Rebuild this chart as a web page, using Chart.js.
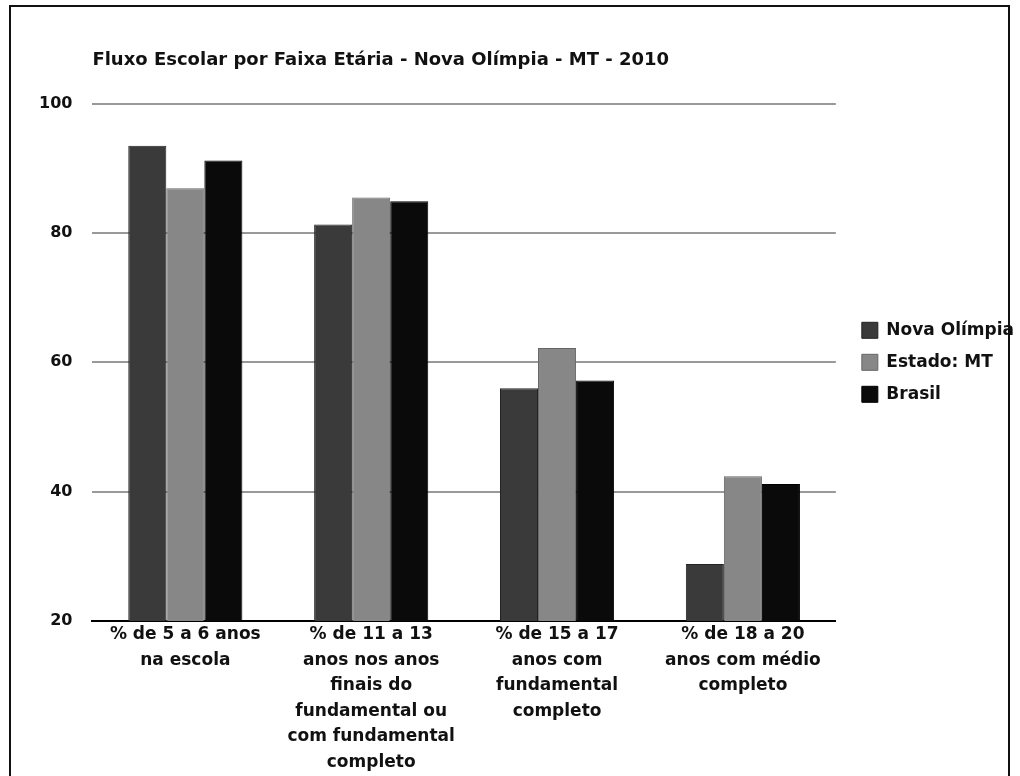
<!DOCTYPE html>
<html>
<head>
<meta charset="utf-8">
<script src="https://cdn.jsdelivr.net/npm/chart.js"></script>
<style>
  html, body { margin: 0; padding: 0; background: #fff; overflow: hidden; }
  #wrap { position: relative; width: 1020px; height: 776px; }
  #frame { position: absolute; left: 9px; top: 5px; width: 997px; height: 820px; border: 2px solid #111; pointer-events: none; }
</style>
</head>
<body>
<div id="wrap">
  <canvas id="fluxoChart" width="1020" height="776"></canvas>
  <div id="frame"></div>
</div>
<script>
const categorias = [
  ['% de 5 a 6 anos', 'na escola'],
  ['% de 11 a 13', 'anos nos anos', 'finais do', 'fundamental ou', 'com fundamental', 'completo'],
  ['% de 15 a 17', 'anos com', 'fundamental', 'completo'],
  ['% de 18 a 20', 'anos com médio', 'completo']
];
const novaOlimpia = [93.5, 81.3, 56.0, 28.8];
const estadoMT = [86.9, 85.5, 62.2, 42.4];
const brasil = [91.2, 84.9, 57.2, 41.2];
const ticksY = [20, 40, 60, 80, 100];

const fonte = (size, lh) => ({ family: 'DejaVu Sans', weight: 'bold', size: size, lineHeight: lh || 1.2 });

// empurra a legenda um pouco para a direita sem mexer na area do grafico
const moveLegend = {
  id: 'moveLegend',
  afterLayout(chart) {
    chart.legend.left += 11;
    chart.legend.right += 11;
  }
};

const ctx = document.getElementById('fluxoChart');
new Chart(ctx, {
  type: 'bar',
  data: {
    labels: categorias,
    datasets: [{
      label: 'Nova Olímpia',
      data: novaOlimpia,
      backgroundColor: '#3a3a3a',
      borderColor: '#222',
      borderWidth: 1
    }, {
      label: 'Estado: MT',
      data: estadoMT,
      backgroundColor: '#878787',
      borderColor: '#666',
      borderWidth: 1
    }, {
      label: 'Brasil',
      data: brasil,
      backgroundColor: '#0a0a0a',
      borderColor: '#000',
      borderWidth: 1
    }]
  },
  options: {
    responsive: false,
    animation: false,
    categoryPercentage: 0.614,
    barPercentage: 1.0,
    layout: {
      padding: { left: 19, right: 7, top: 0, bottom: 0 }
    },
    plugins: {
      title: {
        display: true,
        text: 'Fluxo Escolar por Faixa Etária - Nova Olímpia - MT - 2010',
        align: 'start',
        fullSize: false,
        color: '#111',
        font: fonte(18),
        padding: { top: 50, bottom: 32 }
      },
      legend: {
        position: 'right',
        align: 'center',
        fullSize: false,
        labels: {
          boxWidth: 16,
          boxHeight: 16,
          padding: 15,
          color: '#111',
          font: fonte(17)
        }
      },
      tooltip: { enabled: false }
    },
    scales: {
      x: {
        grid: { display: false, drawTicks: false },
        border: { display: true, color: '#000', width: 2 },
        ticks: {
          color: '#111',
          font: fonte(17, 1.5),
          padding: 1,
          maxRotation: 0,
          autoSkip: false
        }
      },
      y: {
        min: 20,
        max: 100,
        afterBuildTicks: scale => { scale.ticks = ticksY.map(v => ({ value: v })); },
        grid: { color: '#999', lineWidth: 2, drawTicks: false },
        border: { display: false },
        ticks: {
          color: '#111',
          font: fonte(16),
          padding: 20
        }
      }
    }
  },
  plugins: [moveLegend]
});
</script>
</body>
</html>
